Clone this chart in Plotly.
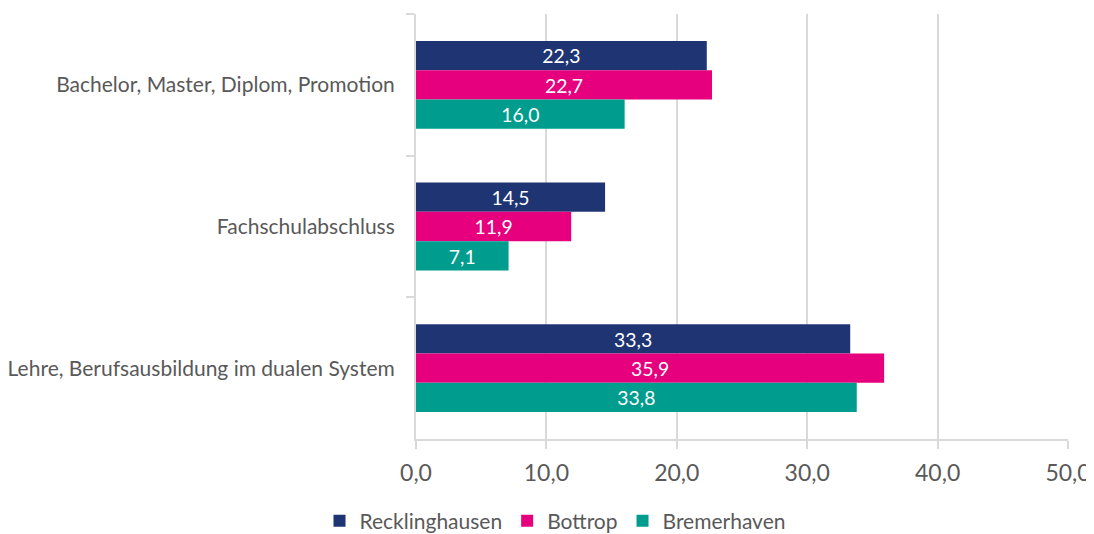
import plotly.graph_objects as go

categories = ["Bachelor, Master, Diplom, Promotion", "Fachschulabschluss",
              "Lehre, Berufsausbildung im dualen System"]
series_names = ["Recklinghausen", "Bottrop", "Bremerhaven"]
recklinghausen = [22.3, 14.5, 33.3]
bottrop = [22.7, 11.9, 35.9]
bremerhaven = [16.0, 7.1, 33.8]
colors = ["#1F3473", "#E6007E", "#009C8E"]
x_ticks = [0, 10, 20, 30, 40, 50]

fig = go.Figure()
for name, vals, col in zip(series_names, [recklinghausen, bottrop, bremerhaven], colors):
    fig.add_trace(go.Bar(
        y=categories, x=vals, name=name, orientation="h",
        marker=dict(color=col, line=dict(width=0)),
        texttemplate="%{x:.1f}", textposition="inside", insidetextanchor="middle",
        textfont=dict(color="white", size=20, family="Lato"),
        textangle=0,
    ))

fig.update_layout(
    barmode="group", bargap=0.38, bargroupgap=0,
    width=1094, height=534,
    margin=dict(l=408, r=34, t=6, b=103, autoexpand=False),
    plot_bgcolor="white", paper_bgcolor="white",
    separators=", ",
    font=dict(family="Lato", color="#595959", size=21),
    legend=dict(orientation="h", xref="container", yref="container",
                x=0.5, xanchor="center", y=0.039, yanchor="middle",
                font=dict(size=21, color="#595959"), traceorder="normal",
                itemwidth=30),
    uniformtext=dict(minsize=10, mode="show"),
)
fig.update_xaxes(range=[0, 50], tickvals=x_ticks, tickformat=".1f",
                 showgrid=True, gridcolor="#D9D9D9", gridwidth=2,
                 showline=True, linecolor="#D9D9D9", linewidth=2,
                 ticks="outside", ticklen=8, tickcolor="#D9D9D9", tickwidth=2,
                 ticklabelstandoff=4, automargin=False,
                 tickfont=dict(size=23, color="#595959"), zeroline=False)
fig.update_yaxes(autorange="reversed", tickson="boundaries",
                 showline=True, linecolor="#D9D9D9", linewidth=2,
                 ticks="outside", ticklen=8, tickcolor="#D9D9D9", tickwidth=2,
                 ticklabelstandoff=15, automargin=False,
                 tickfont=dict(size=21, color="#595959"), showgrid=False)

fig.write_html("out.html")
